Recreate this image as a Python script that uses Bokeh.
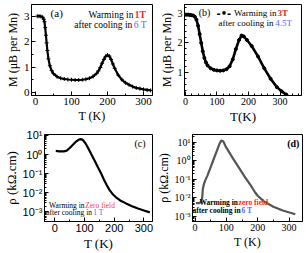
from bokeh.plotting import figure
from bokeh.layouts import column, row
from bokeh.models import (FixedTicker, CustomJSTickFormatter, Label, Range1d)
from bokeh.embed import file_html
from bokeh.resources import INLINE

# ---------------- data ----------------
# (a) M vs T, warming in 1T after cooling in 6 T
a_T = [5, 10, 15, 20, 23, 25, 27, 29, 31, 33, 36, 40, 45, 50, 60, 70, 80, 90, 100,
       110, 120, 130, 140, 150, 160, 170, 175, 180, 185, 190, 195, 200, 205, 210,
       215, 220, 230, 240, 250, 260, 270, 280, 290, 300, 310, 320]
a_M = [3.0, 3.0, 2.99, 2.96, 2.88, 2.78, 2.55, 2.25, 1.95, 1.65, 1.32, 1.05, 0.86,
       0.74, 0.62, 0.56, 0.53, 0.51, 0.5, 0.49, 0.49, 0.5, 0.52, 0.56, 0.63, 0.75,
       0.85, 0.98, 1.15, 1.3, 1.42, 1.47, 1.43, 1.3, 1.12, 0.95, 0.68, 0.5, 0.38,
       0.3, 0.23, 0.18, 0.15, 0.12, 0.1, 0.08]

# (b) M vs T, warming in 3T after cooling in 4.5T
b_T = [0, 5, 10, 15, 20, 25, 30, 35, 40, 45, 50, 55, 60, 65, 70, 80, 90, 100, 110,
       120, 130, 140, 150, 160, 170, 178, 185, 195, 210, 230, 250, 270, 290, 305, 320]
b_M = [2.95, 2.95, 2.95, 2.94, 2.93, 2.92, 2.88, 2.78, 2.58, 2.3, 2.0, 1.72, 1.5,
       1.35, 1.25, 1.15, 1.1, 1.08, 1.07, 1.08, 1.12, 1.22, 1.45, 1.8, 2.1, 2.25,
       2.22, 2.1, 1.9, 1.55, 1.15, 0.8, 0.52, 0.38, 0.27]

# (c) rho vs T, warming in zero field after cooling in 1 T
c_T = [3, 15, 30, 40, 50, 60, 70, 80, 85, 90, 95, 105, 115, 125, 135, 145, 155,
       165, 175, 185, 195, 205, 220, 240, 260, 280, 300, 320]
c_R = [1.55, 1.48, 1.48, 1.6, 2.2, 3.2, 4.6, 5.9, 6.4, 6.3, 5.6, 3.5, 1.8, 0.89,
       0.45, 0.22, 0.11, 0.05, 0.025, 0.0135, 0.0085, 0.006, 0.004, 0.0028,
       0.002, 0.0015, 0.0012, 0.00095]

# (d) rho vs T, warming in zero field after cooling in 6 T
d_T = [3, 10, 15, 20, 23, 25, 28, 32, 40, 50, 60, 70, 78, 84, 90, 100, 120, 140,
       160, 180, 192, 200, 220, 250, 280, 320]
d_R = [0.005, 0.005, 0.0052, 0.006, 0.01, 0.03, 0.05, 0.08, 0.16, 0.45, 1.26, 3.5,
       8.0, 12.0, 11.0, 5.0, 1.4, 0.42, 0.125, 0.04, 0.019, 0.0126, 0.0063, 0.0032,
       0.002, 0.00126]

lin_ticks = [0, 100, 200, 300]

SERIF = "Liberation Serif"
SANS = "Liberation Sans"

sup_js = """
const sup = {'-':'\u207b','0':'\u2070','1':'\u00b9','2':'\u00b2','3':'\u00b3','4':'\u2074','5':'\u2075','6':'\u2076','7':'\u2077','8':'\u2078','9':'\u2079'};
const e = Math.round(Math.log10(tick));
return '10' + String(e).split('').map(c => sup[c]).join('');
"""


def style(p, tick_font=SERIF, tick_size="11px", label_size="13px", yfont=None):
    p.outline_line_color = "black"
    p.outline_line_width = 1
    p.grid.visible = False
    p.background_fill_color = "white"
    p.border_fill_color = "white"
    for ax in p.xaxis + p.yaxis:
        ax.axis_line_color = "black"
        ax.major_tick_in = 4
        ax.major_tick_out = 0
        ax.minor_tick_in = 2
        ax.minor_tick_out = 0
        ax.major_label_text_font = tick_font
        ax.major_label_text_font_size = tick_size
        ax.major_label_text_color = "black"
        ax.axis_label_text_font = SERIF
        ax.axis_label_text_font_size = label_size
        ax.axis_label_text_font_style = "normal"
        ax.axis_label_text_color = "black"
        ax.axis_label_standoff = 1
        ax.major_label_standoff = 2
    if yfont:
        p.yaxis.major_label_text_font = yfont


def txt(p, x, y, s, color="black", align="left", size="9.5px", style_="normal",
        font=SERIF):
    p.add_layout(Label(x=x, y=y, text=s, text_color=color, text_align=align,
                       text_baseline="middle", text_font=font,
                       text_font_size=size, text_font_style=style_))


# ---------------- (a) ----------------
pa = figure(width=153, height=126, output_backend="svg", toolbar_location=None,
            x_range=Range1d(-11, 325), y_range=Range1d(-0.12, 3.46),
            min_border_left=31, min_border_right=1, min_border_top=4,
            min_border_bottom=29)
pa.line(a_T, a_M, line_color="black", line_width=2.2)
pa.scatter(a_T, a_M, marker="cross", size=4, line_color="black")
pa.xaxis.axis_label = "T (K)"
pa.yaxis.axis_label = "M (\u03bcB per Mn)"
pa.xaxis.ticker = FixedTicker(ticks=lin_ticks, minor_ticks=[50, 150, 250])
pa.yaxis.ticker = FixedTicker(ticks=[0, 1, 2, 3], minor_ticks=[0.5, 1.5, 2.5])
style(pa, label_size="12px")
txt(pa, 42, 3.12, "(a)", size="11px")
txt(pa, 272, 3.04, "Warming in", align="right")
txt(pa, 276, 3.04, "1T", color="#ff1a1a", style_="bold")
txt(pa, 269, 2.65, "after cooling in", align="right")
txt(pa, 273, 2.65, "6 T", color="#4a6cff")

# ---------------- (b) ----------------
pb = figure(width=153, height=126, output_backend="svg", toolbar_location=None,
            x_range=Range1d(-3, 368), y_range=Range1d(0.24, 3.29),
            min_border_left=31, min_border_right=5, min_border_top=1,
            min_border_bottom=29)
pb.line(b_T, b_M, line_color="black", line_width=2.6)
pb.scatter(b_T, b_M, marker="circle", size=3, fill_color="black", line_color="black")
pb.xaxis.axis_label = "T(K)"
pb.yaxis.axis_label = "M (\u03bcB per Mn)"
pb.xaxis.ticker = FixedTicker(ticks=lin_ticks,
                              minor_ticks=[20, 40, 60, 80, 120, 140, 160, 180, 220, 240, 260, 280, 320, 340, 360])
pb.yaxis.ticker = FixedTicker(ticks=[1, 2, 3],
                              minor_ticks=[0.4, 0.6, 0.8, 1.2, 1.4, 1.6, 1.8, 2.2, 2.4, 2.6, 2.8, 3.2])
style(pb, tick_size="10px", label_size="12px")
pb.xaxis.axis_label_text_font_size = "13px"
txt(pb, 42, 3.02, "(b)", size="10px")
txt(pb, 145, 3.0, "-\u2022-", align="right", size="10px", font="DejaVu Sans",
    style_="bold")
txt(pb, 289, 3.0, "Warming in", align="right", size="9px")
txt(pb, 292, 3.0, "3T", color="#ff1a1a", size="9px", style_="bold")
txt(pb, 279, 2.68, "after cooling in", align="right", size="9px")
txt(pb, 285, 2.68, "4.5T", color="#4a6cff", size="9px")

# ---------------- (c) ----------------
pc = figure(width=153, height=127, output_backend="svg", toolbar_location=None,
            y_axis_type="log",
            x_range=Range1d(-35, 329), y_range=Range1d(10 ** -3.5, 10 ** 1.05),
            min_border_left=38, min_border_right=1, min_border_top=8,
            min_border_bottom=27)
pc.line(c_T, c_R, line_color="black", line_width=2.2)
pc.xaxis.axis_label = "T (K)"
pc.yaxis.axis_label = "\u03c1 (k\u03a9.cm)"
pc.xaxis.ticker = FixedTicker(ticks=lin_ticks, minor_ticks=[50, 150, 250])
dec = [1e-3, 1e-2, 1e-1, 1, 10]
minor = [m * d for d in [1e-4, 1e-3, 1e-2, 1e-1, 1, 10] for m in range(2, 10)]
pc.yaxis.ticker = FixedTicker(ticks=dec, minor_ticks=minor)
pc.yaxis.formatter = CustomJSTickFormatter(code=sup_js)
style(pc, tick_size="11px", label_size="13px", yfont=SANS)
pc.xaxis.major_label_text_font = SANS
txt(pc, 268, 4.0, "(c)", size="10px")
txt(pc, 100, 0.0022, "Warming in", align="right", size="7.5px")
txt(pc, 102, 0.0022, "Zero field", color="#ff4040", size="7.5px")
txt(pc, 125, 0.00089, "after cooling in", align="right", size="7.5px")
txt(pc, 129, 0.00089, "1 T", color="#4a6cff", size="7.5px")

# ---------------- (d) ----------------
pd_ = figure(width=153, height=127, output_backend="svg", toolbar_location=None,
             y_axis_type="log",
             x_range=Range1d(-8, 343), y_range=Range1d(10 ** -3.29, 10 ** 1.41),
             min_border_left=35, min_border_right=4, min_border_top=7,
             min_border_bottom=28)
pd_.line(d_T, d_R, line_color="#555555", line_width=2.2)
pd_.xaxis.axis_label = "T (K)"
pd_.yaxis.axis_label = "\u03c1 (k\u03a9.cm)"
pd_.xaxis.ticker = FixedTicker(ticks=lin_ticks, minor_ticks=[50, 150, 250])
pd_.yaxis.ticker = FixedTicker(ticks=dec, minor_ticks=minor)
pd_.yaxis.formatter = CustomJSTickFormatter(code=sup_js)
style(pd_, tick_size="10px", label_size="12px")
txt(pd_, 294, 7.9, "(d)", size="10px", style_="bold")
txt(pd_, 137, 0.0054, "Warming in", align="right", size="7.5px", style_="bold")
txt(pd_, 139, 0.0054, "zero field", color="#ff1a1a", size="7.5px", style_="bold")
txt(pd_, 146, 0.0019, "after cooling in", align="right", size="7.5px", style_="bold")
txt(pd_, 148, 0.0019, "6 T", color="#4a6cff", size="7.5px", style_="bold")

layout = column(row(pa, pb, spacing=0), row(pc, pd_, spacing=0), spacing=0)

with open("out.html", "w") as f:
    f.write(file_html(layout, INLINE))
